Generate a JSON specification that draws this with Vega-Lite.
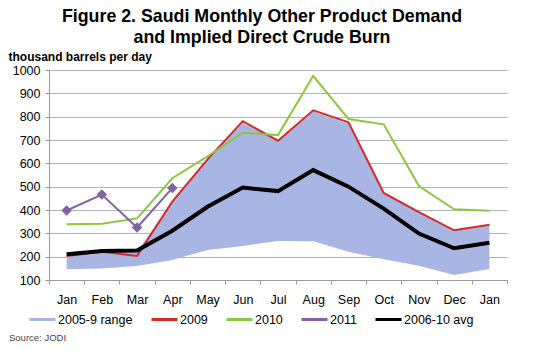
{
  "$schema": "https://vega.github.io/schema/vega-lite/v6.json",
  "width": 458,
  "height": 210,
  "autosize": {"type": "none"},
  "padding": {"left": 49, "top": 70, "right": 26, "bottom": 70},
  "background": "white",
  "config": {
    "font": "Liberation Sans",
    "view": {"stroke": null},
    "axisY": {
      "titleAngle": 0,
      "titleAlign": "left",
      "titleBaseline": "alphabetic",
      "titleX": -41,
      "titleY": -10,
      "titleFontSize": 12,
      "titleFontWeight": "bold",
      "titleColor": "#000000",
      "labelOverlap": false,
      "labelSeparation": 0,
      "labelFontSize": 12.5,
      "labelColor": "#000000",
      "labelPadding": 5,
      "tickSize": 4,
      "tickCount": 10,
      "tickColor": "#9a9a9a",
      "domainColor": "#9a9a9a",
      "gridColor": "#b4b4b4",
      "gridWidth": 1,
      "format": "d"
    },
    "legend": {
      "orient": "none",
      "legendX": -21,
      "legendY": 235,
      "direction": "horizontal",
      "columns": 5,
      "columnPadding": 12,
      "symbolType": "stroke",
      "symbolSize": 676,
      "symbolStrokeWidth": 3,
      "labelFontSize": 12.5,
      "labelColor": "#000000",
      "labelOffset": 1
    }
  },
  "title": {
    "text": ["Figure 2. Saudi Monthly Other Product Demand", "and Implied Direct Crude Burn"],
    "fontSize": 17.8,
    "fontWeight": "bold",
    "font": "Liberation Sans",
    "color": "#000000",
    "anchor": "middle",
    "frame": "group",
    "dx": -16,
    "offset": 3,
    "lineHeight": 21
  },
  "datasets": {
    "range": [
      {"i": 0, "lo": 146, "hi": 205, "s": "2005-9 range"},
      {"i": 1, "lo": 149, "hi": 221, "s": "2005-9 range"},
      {"i": 2, "lo": 160, "hi": 222, "s": "2005-9 range"},
      {"i": 3, "lo": 186, "hi": 436, "s": "2005-9 range"},
      {"i": 4, "lo": 229, "hi": 617, "s": "2005-9 range"},
      {"i": 5, "lo": 246, "hi": 772, "s": "2005-9 range"},
      {"i": 6, "lo": 267, "hi": 697, "s": "2005-9 range"},
      {"i": 7, "lo": 266, "hi": 822, "s": "2005-9 range"},
      {"i": 8, "lo": 221, "hi": 770, "s": "2005-9 range"},
      {"i": 9, "lo": 189, "hi": 473, "s": "2005-9 range"},
      {"i": 10, "lo": 161, "hi": 391, "s": "2005-9 range"},
      {"i": 11, "lo": 121, "hi": 313, "s": "2005-9 range"},
      {"i": 12, "lo": 147, "hi": 337, "s": "2005-9 range"}
    ],
    "lines": [
      {"i": 0, "s": "2009", "v": 203},
      {"i": 1, "s": "2009", "v": 221},
      {"i": 2, "s": "2009", "v": 203},
      {"i": 3, "s": "2009", "v": 436},
      {"i": 4, "s": "2009", "v": 617},
      {"i": 5, "s": "2009", "v": 780},
      {"i": 6, "s": "2009", "v": 697},
      {"i": 7, "s": "2009", "v": 827},
      {"i": 8, "s": "2009", "v": 776},
      {"i": 9, "s": "2009", "v": 473},
      {"i": 10, "s": "2009", "v": 391},
      {"i": 11, "s": "2009", "v": 313},
      {"i": 12, "s": "2009", "v": 337},
      {"i": 0, "s": "2010", "v": 339},
      {"i": 1, "s": "2010", "v": 341},
      {"i": 2, "s": "2010", "v": 364},
      {"i": 3, "s": "2010", "v": 536},
      {"i": 4, "s": "2010", "v": 630},
      {"i": 5, "s": "2010", "v": 731},
      {"i": 6, "s": "2010", "v": 721},
      {"i": 7, "s": "2010", "v": 974},
      {"i": 8, "s": "2010", "v": 790},
      {"i": 9, "s": "2010", "v": 767},
      {"i": 10, "s": "2010", "v": 503},
      {"i": 11, "s": "2010", "v": 403},
      {"i": 12, "s": "2010", "v": 397},
      {"i": 0, "s": "2011", "v": 398},
      {"i": 1, "s": "2011", "v": 466},
      {"i": 2, "s": "2011", "v": 325},
      {"i": 3, "s": "2011", "v": 494},
      {"i": 0, "s": "2006-10 avg", "v": 210},
      {"i": 1, "s": "2006-10 avg", "v": 224},
      {"i": 2, "s": "2006-10 avg", "v": 226},
      {"i": 3, "s": "2006-10 avg", "v": 311},
      {"i": 4, "s": "2006-10 avg", "v": 414},
      {"i": 5, "s": "2006-10 avg", "v": 496},
      {"i": 6, "s": "2006-10 avg", "v": 481},
      {"i": 7, "s": "2006-10 avg", "v": 571},
      {"i": 8, "s": "2006-10 avg", "v": 500},
      {"i": 9, "s": "2006-10 avg", "v": 406},
      {"i": 10, "s": "2006-10 avg", "v": 299},
      {"i": 11, "s": "2006-10 avg", "v": 236},
      {"i": 12, "s": "2006-10 avg", "v": 260}
    ]
  },
  "encoding": {
    "x": {
      "field": "i",
      "type": "ordinal",
      "bandPosition": 0.5,
      "scale": {"type": "band", "paddingInner": 0, "paddingOuter": 0, "domain": [0,1,2,3,4,5,6,7,8,9,10,11,12]},
      "axis": {
        "title": null,
        "labelAngle": 0,
        "labelExpr": "['Jan','Feb','Mar','Apr','May','Jun','Jul','Aug','Sep','Oct','Nov','Dec','Jan'][datum.value]",
        "labelFontSize": 12.5,
        "labelColor": "#000000",
        "labelPadding": 9,
        "labelOverlap": false,
        "tickBand": "extent",
        "tickSize": 4,
        "tickColor": "#9a9a9a",
        "domainColor": "#9a9a9a",
        "grid": false
      }
    }
  },
  "layer": [
    {
      "data": {"name": "range"},
      "mark": {"type": "area", "opacity": 1},
      "encoding": {
        "y": {
          "field": "lo",
          "type": "quantitative",
          "title": "thousand barrels per day",
          "scale": {"domain": [100, 1000], "nice": false, "zero": false},
          "axis": {"values": [100,200,300,400,500,600,700,800,900,1000], "labelOverlap": false}
        },
        "y2": {"field": "hi"},
        "color": {
          "field": "s",
          "type": "nominal",
          "scale": {
            "domain": ["2005-9 range", "2009", "2010", "2011", "2006-10 avg"],
            "range": ["#a9b6e3", "#d42a2a", "#8dc63f", "#8064a2", "#000000"]
          },
          "legend": {"title": null, "symbolType": "stroke"}
        }
      }
    },
    {
      "data": {"name": "lines"},
      "mark": {"type": "line", "strokeJoin": "miter"},
      "encoding": {
        "y": {
          "field": "v",
          "type": "quantitative",
          "title": "thousand barrels per day",
          "scale": {"domain": [100, 1000], "nice": false, "zero": false},
          "axis": {"values": [100,200,300,400,500,600,700,800,900,1000], "labelOverlap": false}
        },
        "color": {
          "field": "s",
          "type": "nominal",
          "scale": {
            "domain": ["2005-9 range", "2009", "2010", "2011", "2006-10 avg"],
            "range": ["#a9b6e3", "#d42a2a", "#8dc63f", "#8064a2", "#000000"]
          },
          "legend": {"title": null, "symbolType": "stroke"}
        },
        "strokeWidth": {
          "condition": {"test": "datum.s === '2006-10 avg'", "value": 4},
          "value": 2
        }
      }
    },
    {
      "data": {"name": "lines"},
      "transform": [{"filter": "datum.s === '2011'"}],
      "mark": {"type": "point", "shape": "diamond", "filled": true, "size": 110, "opacity": 1},
      "encoding": {
        "y": {
          "field": "v",
          "type": "quantitative",
          "title": "thousand barrels per day",
          "axis": {"values": [100,200,300,400,500,600,700,800,900,1000], "labelOverlap": false}
        },
        "color": {"value": "#8064a2"}
      }
    },
    {
      "data": {"values": [{"t": "Source: JODI"}]},
      "mark": {"type": "text", "align": "left", "baseline": "middle", "fontSize": 9.5, "dx": -40, "dy": 58},
      "encoding": {
        "text": {"field": "t"},
        "x": {"value": 0},
        "y": {"value": 210},
        "color": {"value": "#444444"}
      }
    }
  ]
}
